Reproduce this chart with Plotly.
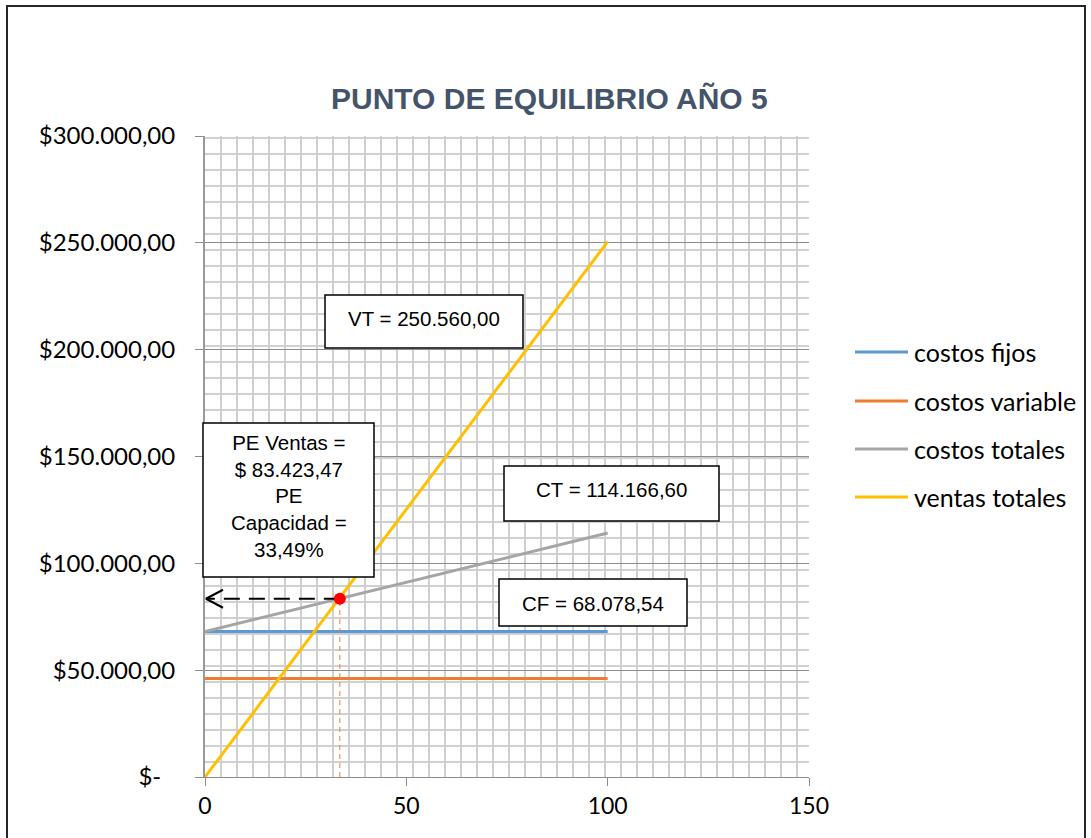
import plotly.graph_objects as go

# ---- data -------------------------------------------------------------
capacidad = [0, 100]                      # % de capacidad utilizada
costos_fijos = [68078.54, 68078.54]
costos_variables = [46088.06, 46088.06]
costos_totales = [68078.54, 114166.60]
ventas_totales = [0.0, 250560.00]

pe_capacidad = 33.49                      # %
pe_ventas = 83423.47                      # $

series_names = ["costos fijos", "costos variable", "costos totales", "ventas totales"]
series_colors = ["#5B9BD5", "#ED7D31", "#A5A5A5", "#FFC000"]

y_ticks = [0, 50000, 100000, 150000, 200000, 250000, 300000]
x_ticks = [0, 50, 100, 150]

# ---- page geometry (pixels) ------------------------------------------
W, H = 1091, 838
L, R, T, B = 205, 809, 136, 777          # plot area edges
X_MAX, Y_MAX = 150, 300000


def px_x(p):
    return (p - L) / (R - L)


def px_y(p):
    return (B - p) / (B - T)


def dx_units(pixels):
    return pixels * X_MAX / (R - L)


def dy_units(pixels):
    return pixels * Y_MAX / (B - T)


def num_es(v, dec=2):
    s = f"{v:,.{dec}f}"
    return s.replace(",", "X").replace(".", ",").replace("X", ".")


def money(v):
    # accounting style: zero shown as a dash, padded by one digit width
    return "$-\u2007" if v == 0 else "$" + num_es(v)


fig = go.Figure()

series = [costos_fijos, costos_variables, costos_totales, ventas_totales]
for name, color, vals in zip(series_names, series_colors, series):
    fig.add_trace(go.Scatter(
        x=capacidad, y=vals, mode="lines", name=name,
        line=dict(color=color, width=3), showlegend=False,
    ))

# break-even guides
fig.add_trace(go.Scatter(
    x=[pe_capacidad, pe_capacidad], y=[0, pe_ventas], mode="lines",
    line=dict(color="#ED7D31", width=1, dash="5px,4px"),
    showlegend=False, hoverinfo="skip",
))
fig.add_trace(go.Scatter(
    x=[pe_capacidad, dx_units(1)], y=[pe_ventas, pe_ventas], mode="lines",
    line=dict(color="#000000", width=2, dash="16px,9px"),
    showlegend=False, hoverinfo="skip",
))
# open arrow head pointing to the sales axis
tip_x = dx_units(1)
fig.add_trace(go.Scatter(
    x=[tip_x + dx_units(17), tip_x, tip_x + dx_units(17)],
    y=[pe_ventas + dy_units(9), pe_ventas, pe_ventas - dy_units(9)],
    mode="lines", line=dict(color="#000000", width=2),
    showlegend=False, hoverinfo="skip",
))
fig.add_trace(go.Scatter(
    x=[pe_capacidad], y=[pe_ventas], mode="markers",
    marker=dict(color="#FF0000", size=12),
    showlegend=False, hoverinfo="skip",
))

shapes = []
annotations = []

# outer chart frame
shapes.append(dict(
    type="rect", xref="paper", yref="paper",
    x0=px_x(7), x1=px_x(1085), y0=px_y(860), y1=px_y(6),
    line=dict(color="#262626", width=2), fillcolor="rgba(0,0,0,0)", layer="above",
))

# text boxes: (left, top, right, bottom, text centre y, text)
box_font = dict(family="Liberation Sans, Arial", size=20.5, color="#000000")
boxes = [
    (325, 295, 523, 348, 318, f"VT = {num_es(ventas_totales[-1])}"),
    (203, 423, 374, 577, 496,
     f"PE Ventas =<br>$ {num_es(pe_ventas)}<br>PE<br>Capacidad =<br>{num_es(pe_capacidad)}%"),
    (504, 466, 719, 521, 489, f"CT = {num_es(costos_totales[-1])}"),
    (499, 579, 687, 626, 603, f"CF = {num_es(costos_fijos[-1])}"),
]
for x0, y0, x1, y1, ty, text in boxes:
    shapes.append(dict(
        type="rect", xref="paper", yref="paper",
        x0=px_x(x0), x1=px_x(x1), y0=px_y(y1), y1=px_y(y0),
        line=dict(color="#000000", width=1.5), fillcolor="#FFFFFF", layer="above",
    ))
    annotations.append(dict(
        xref="paper", yref="paper", x=px_x((x0 + x1) / 2), y=px_y(ty),
        xanchor="center", yanchor="middle", text=text, showarrow=False,
        font=box_font, align="center",
    ))

# legend drawn as line samples + labels
legend_y = [352, 401, 449, 497]
for name, color, ly in zip(series_names, series_colors, legend_y):
    shapes.append(dict(
        type="line", xref="paper", yref="paper",
        x0=px_x(855), x1=px_x(908), y0=px_y(ly), y1=px_y(ly),
        line=dict(color=color, width=3), layer="above",
    ))
    annotations.append(dict(
        xref="paper", yref="paper", x=px_x(912), y=px_y(ly),
        xanchor="left", yanchor="middle", text=name, showarrow=False,
        font=dict(family="Lato", size=25, color="#000000"),
    ))

# chart title
annotations.append(dict(
    xref="paper", yref="paper", x=px_x(549), y=px_y(98),
    xanchor="center", yanchor="middle", showarrow=False,
    text="<b>PUNTO DE EQUILIBRIO AÑO 5</b>",
    font=dict(family="Liberation Sans, Arial", size=30, color="#44546A"),
))

fig.update_layout(
    width=W, height=H,
    margin=dict(l=L, r=W - R, t=T, b=H - B, pad=0),
    paper_bgcolor="#FFFFFF", plot_bgcolor="#FFFFFF",
    shapes=shapes, annotations=annotations, showlegend=False,
    font=dict(family="Lato", color="#000000"),
)

fig.update_xaxes(
    range=[0, X_MAX], tickvals=x_ticks, ticktext=[str(v) for v in x_ticks],
    showgrid=False, zeroline=False,
    showline=True, linecolor="#8C8C8C", linewidth=1,
    ticks="outside", ticklen=8, tickcolor="#8C8C8C", tickwidth=1,
    tickfont=dict(family="Lato", size=23, color="#000000"),
    minor=dict(tick0=0, dtick=dx_units(16), showgrid=True,
               gridcolor="#D0D0D0", gridwidth=2),
)
fig.update_yaxes(
    range=[0, Y_MAX], tickvals=y_ticks, ticktext=[money(v) for v in y_ticks],
    showgrid=True, gridcolor="#8C8C8C", gridwidth=1, zeroline=False,
    showline=True, linecolor="#999999", linewidth=2,
    ticks="outside", ticklen=8, tickcolor="#8C8C8C", tickwidth=1,
    ticklabelstandoff=15,
    tickfont=dict(family="Lato", size=24, color="#000000"),
    minor=dict(tick0=Y_MAX - dy_units(18), dtick=dy_units(16), showgrid=True,
               gridcolor="#D0D0D0", gridwidth=2),
)

fig.write_html("out.html")
